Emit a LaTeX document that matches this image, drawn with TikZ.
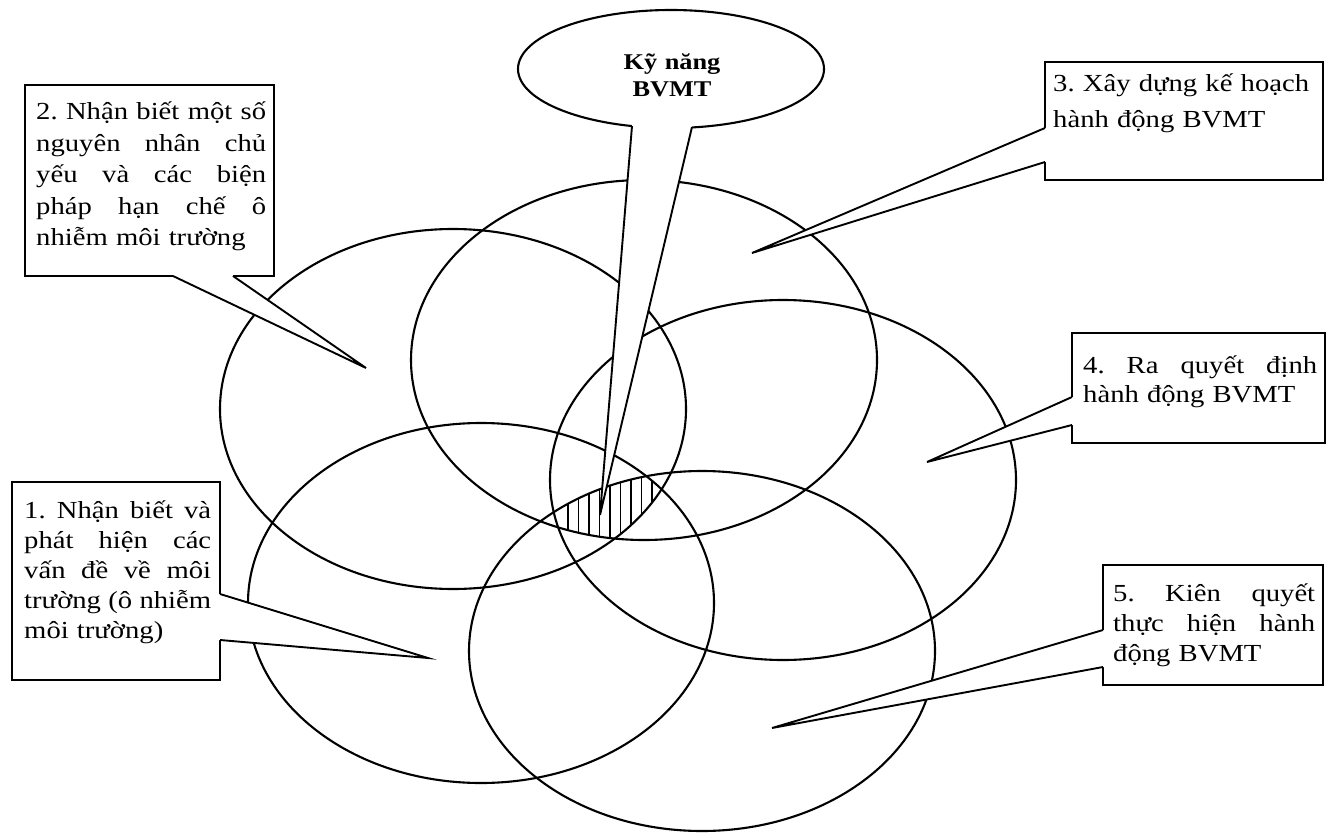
\documentclass[tikz,border=0pt]{standalone}
\usepackage{fontspec}
\setmainfont{Liberation Serif}[FakeStretch=1.17]
\usetikzlibrary{shapes.geometric}
\newcommand{\J}[2]{\makebox[#1][s]{\spaceskip=.28em plus 1fil minus .11em\relax #2}}
\begin{document}
\frenchspacing
\begin{tikzpicture}[x=1pt,y=-1pt,
  ln/.style={line width=2.1pt},
  box/.style={draw, line width=2.3pt, fill=white, inner sep=0pt},
  txt/.style={inner sep=0pt, anchor=base west, align=left},
  ptr/.style={line width=1.9pt, line join=miter}]
\useasboundingbox (0,0) rectangle (1327,834);
\fill[white] (0,0) rectangle (1327,834);
% ellipse centres
\coordinate (c1) at (481,603);
\coordinate (c2) at (453,409);
\coordinate (c3) at (644,360);
\coordinate (c4) at (783,480);
\coordinate (c5) at (702,651);
\foreach \c in {c1,c2,c3,c4,c5} \draw[ln] (\c) ellipse [x radius=233pt, y radius=180pt];
% hatched common region
\begin{scope}
\clip (c1) ellipse [x radius=233pt, y radius=180pt];
\clip (c2) ellipse [x radius=233pt, y radius=180pt];
\clip (c3) ellipse [x radius=233pt, y radius=180pt];
\clip (c4) ellipse [x radius=233pt, y radius=180pt];
\clip (c5) ellipse [x radius=233pt, y radius=180pt];
\foreach \i in {0,...,9} \draw[line width=1.5pt] ({568+10.5*\i},440) -- ({568+10.5*\i},570);
\end{scope}
% speech bubble
\node[draw, ellipse, line width=2.1pt, fill=white, minimum width=306pt, minimum height=118pt, inner sep=0pt] (bub) at (671,69) {};
\node[inner sep=0pt, anchor=base, text width=150pt, align=center, font=\bfseries\fontsize{22.5pt}{27pt}\selectfont] (bubtxt) at (672,70) {Kỹ năng\\BVMT};
\coordinate (t0) at (600,515);
\coordinate (p0a) at (632,126);
\coordinate (p0b) at (692,127);
\fill[white] (632,116) -- (p0a) -- (t0) -- (p0b) -- (692,116) -- cycle;
\draw[ptr] (p0a) -- (t0) -- (p0b);
% box 2
\node[box, minimum width=249pt, minimum height=191pt] (b2) at (149.5,180.5) {};
\coordinate (t2) at (366,368);
\coordinate (p2a) at (173,276);
\coordinate (p2b) at (233,276);
\fill[white] (173,272) -- (p2a) -- (t2) -- (p2b) -- (233,272) -- cycle;
\draw[ptr] (p2a) -- (t2) -- (p2b);
\node[txt, text width=230pt, font=\fontsize{24.5pt}{31.5pt}\selectfont] (b2t) at (36,120)
 {\J{230pt}{2. Nhận biết một số}\\\J{230pt}{nguyên nhân chủ}\\\J{230pt}{yếu và các biện}\\\J{230pt}{pháp hạn chế ô}\\nhiễm môi trường};
% box 3
\node[box, minimum width=278pt, minimum height=118pt] (b3) at (1184,121) {};
\coordinate (t3) at (752,253);
\coordinate (p3a) at (1045,128);
\coordinate (p3b) at (1045,162);
\fill[white] (1049,128) -- (p3a) -- (t3) -- (p3b) -- (1049,162) -- cycle;
\draw[ptr] (p3a) -- (t3) -- (p3b);
\node[txt, text width=265pt, font=\fontsize{24.5pt}{36pt}\selectfont] (b3t) at (1053,92)
 {3. Xây dựng kế hoạch\\hành động BVMT};
% box 4
\node[box, minimum width=253pt, minimum height=110pt] (b4) at (1198.5,388) {};
\coordinate (t4) at (927,462);
\coordinate (p4a) at (1072,397);
\coordinate (p4b) at (1072,425);
\fill[white] (1076,397) -- (p4a) -- (t4) -- (p4b) -- (1076,425) -- cycle;
\draw[ptr] (p4a) -- (t4) -- (p4b);
\node[txt, text width=234pt, font=\fontsize{24.5pt}{29pt}\selectfont] (b4t) at (1083,373)
 {\J{234pt}{4. Ra quyết định}\\hành động BVMT};
% box 1
\node[box, minimum width=208pt, minimum height=198pt] (b1) at (116,581) {};
\coordinate (t1) at (428,658);
\coordinate (p1a) at (220,594);
\coordinate (p1b) at (220,640);
\fill[white] (216,594) -- (p1a) -- (t1) -- (p1b) -- (216,640) -- cycle;
\draw[ptr] (p1a) -- (t1) -- (p1b);
\node[txt, text width=187pt, font=\fontsize{24.5pt}{30pt}\selectfont] (b1t) at (24,518)
 {\J{187pt}{1. Nhận biết và}\\\J{187pt}{phát hiện các}\\\J{187pt}{vấn đề về môi}\\\J{187pt}{trường (ô nhiễm}\\môi trường)};
% box 5
\node[box, minimum width=220pt, minimum height=120pt] (b5) at (1213,625) {};
\coordinate (t5) at (772,728);
\coordinate (p5a) at (1103,630);
\coordinate (p5b) at (1103,667);
\fill[white] (1107,630) -- (p5a) -- (t5) -- (p5b) -- (1107,667) -- cycle;
\draw[ptr] (p5a) -- (t5) -- (p5b);
\node[txt, text width=202pt, font=\fontsize{24.5pt}{30pt}\selectfont] (b5t) at (1113,601)
 {\J{202pt}{5. Kiên quyết}\\\J{202pt}{thực hiện hành}\\động BVMT};
\end{tikzpicture}
\end{document}
